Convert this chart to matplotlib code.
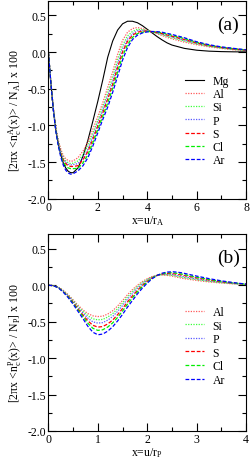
import numpy as np
import matplotlib
matplotlib.use("Agg")
import matplotlib.pyplot as plt
from matplotlib.ticker import MultipleLocator

plt.rcParams['font.family'] = ['Liberation Serif', 'DejaVu Serif']
plt.rcParams['mathtext.fontset'] = 'custom'
plt.rcParams['mathtext.rm'] = 'Liberation Serif'
plt.rcParams['mathtext.it'] = 'Liberation Serif:italic'

# panel (a): x = u / r_A
xa = [0.0, 0.1, 0.2, 0.3, 0.4, 0.5, 0.6, 0.7, 0.8, 0.9, 1.0,
      1.2, 1.4, 1.6, 1.8, 2.0, 2.2, 2.4, 2.6, 2.8, 3.0,
      3.2, 3.4, 3.6, 3.8, 4.0, 4.2, 4.4, 4.6, 4.8, 5.0,
      5.5, 6.0, 6.5, 7.0, 7.5, 8.0]

mg_a = [0, -0.42, -0.78, -1.06, -1.25, -1.40, -1.51, -1.58, -1.625, -1.645, -1.645,
        -1.58, -1.42, -1.20, -0.94, -0.67, -0.38, -0.07, 0.15, 0.30, 0.385,
        0.42, 0.42, 0.40, 0.36, 0.31, 0.26, 0.21, 0.165, 0.125, 0.095,
        0.05, 0.025, 0.012, 0.006, 0.003, 0.002]
al_a = [0, -0.42, -0.77, -1.03, -1.20, -1.32, -1.41, -1.455, -1.48, -1.49, -1.485,
        -1.44, -1.35, -1.23, -1.05, -0.88, -0.69, -0.48, -0.27, -0.03, 0.16,
        0.27, 0.32, 0.335, 0.32, 0.30, 0.275, 0.25, 0.225, 0.20, 0.18,
        0.135, 0.10, 0.07, 0.05, 0.03, 0.02]
si_a = [0, -0.42, -0.775, -1.04, -1.22, -1.35, -1.44, -1.485, -1.51, -1.52, -1.515,
        -1.485, -1.40, -1.28, -1.11, -0.935, -0.75, -0.55, -0.34, -0.105, 0.09,
        0.22, 0.28, 0.31, 0.305, 0.295, 0.276, 0.257, 0.236, 0.214, 0.195,
        0.15, 0.11, 0.078, 0.055, 0.035, 0.022]
p_a = [0, -0.42, -0.78, -1.05, -1.23, -1.365, -1.455, -1.505, -1.53, -1.54, -1.535,
       -1.52, -1.44, -1.325, -1.15, -0.98, -0.79, -0.60, -0.40, -0.165, 0.04,
       0.175, 0.25, 0.29, 0.295, 0.29, 0.277, 0.263, 0.245, 0.225, 0.207,
       0.162, 0.118, 0.084, 0.059, 0.039, 0.025]
s_a = [0, -0.42, -0.78, -1.055, -1.24, -1.38, -1.47, -1.52, -1.55, -1.56, -1.56,
       -1.55, -1.47, -1.355, -1.19, -1.01, -0.83, -0.64, -0.44, -0.21, 0.0,
       0.145, 0.23, 0.27, 0.285, 0.285, 0.278, 0.267, 0.252, 0.233, 0.216,
       0.171, 0.124, 0.088, 0.062, 0.042, 0.026]
cl_a = [0, -0.42, -0.785, -1.065, -1.26, -1.40, -1.50, -1.55, -1.58, -1.59, -1.59,
        -1.585, -1.51, -1.40, -1.235, -1.055, -0.875, -0.695, -0.495, -0.27, -0.055,
        0.10, 0.20, 0.25, 0.27, 0.28, 0.279, 0.272, 0.261, 0.244, 0.228,
        0.183, 0.132, 0.094, 0.066, 0.046, 0.028]
ar_a = [0, -0.42, -0.79, -1.08, -1.28, -1.43, -1.54, -1.61, -1.65, -1.665, -1.66,
        -1.62, -1.55, -1.44, -1.28, -1.10, -0.92, -0.75, -0.55, -0.33, -0.11,
        0.06, 0.17, 0.23, 0.26, 0.275, 0.28, 0.278, 0.27, 0.255, 0.24,
        0.195, 0.14, 0.10, 0.07, 0.05, 0.03]

# panel (b): x = u / r_P
xb = [0.0, 0.1, 0.2, 0.3, 0.4, 0.5, 0.6, 0.7, 0.8, 0.9, 1.0,
      1.1, 1.2, 1.3, 1.4, 1.5, 1.6, 1.7, 1.8, 1.9, 2.0,
      2.1, 2.2, 2.3, 2.4, 2.5, 2.6, 2.7, 2.8, 2.9, 3.0,
      3.25, 3.5, 3.75, 4.0]

al_b = [0, -0.005, -0.025, -0.07, -0.13, -0.20, -0.275, -0.34, -0.39, -0.42, -0.43,
        -0.425, -0.395, -0.35, -0.285, -0.21, -0.13, -0.06, 0.0, 0.05, 0.09,
        0.12, 0.135, 0.14, 0.135, 0.125, 0.11, 0.095, 0.085, 0.075, 0.065,
        0.045, 0.03, 0.018, 0.01]
si_b = [0, -0.005, -0.027, -0.075, -0.137, -0.211, -0.29, -0.362, -0.42, -0.461, -0.475,
        -0.469, -0.437, -0.39, -0.322, -0.244, -0.161, -0.087, -0.022, 0.034, 0.079,
        0.115, 0.135, 0.145, 0.143, 0.136, 0.123, 0.109, 0.098, 0.087, 0.076,
        0.053, 0.035, 0.021, 0.011]
p_b = [0, -0.005, -0.029, -0.079, -0.144, -0.222, -0.306, -0.383, -0.453, -0.503, -0.52,
       -0.513, -0.48, -0.429, -0.359, -0.278, -0.191, -0.114, -0.043, 0.018, 0.068,
       0.109, 0.135, 0.149, 0.151, 0.147, 0.135, 0.122, 0.11, 0.098, 0.087,
       0.061, 0.041, 0.024, 0.012]
s_b = [0, -0.006, -0.031, -0.085, -0.153, -0.235, -0.324, -0.41, -0.49, -0.55, -0.575,
       -0.567, -0.531, -0.478, -0.404, -0.32, -0.229, -0.147, -0.07, -0.002, 0.055,
       0.103, 0.135, 0.155, 0.161, 0.16, 0.151, 0.139, 0.126, 0.113, 0.10,
       0.071, 0.047, 0.028, 0.013]
cl_b = [0, -0.006, -0.033, -0.089, -0.16, -0.246, -0.34, -0.431, -0.523, -0.591, -0.62,
        -0.611, -0.574, -0.517, -0.441, -0.354, -0.259, -0.174, -0.091, -0.018, 0.044,
        0.097, 0.135, 0.159, 0.169, 0.171, 0.163, 0.152, 0.138, 0.124, 0.11,
        0.079, 0.053, 0.031, 0.014]
ar_b = [0, -0.006, -0.035, -0.095, -0.17, -0.26, -0.36, -0.46, -0.565, -0.645, -0.68,
        -0.67, -0.63, -0.57, -0.49, -0.40, -0.30, -0.21, -0.12, -0.04, 0.03,
        0.09, 0.135, 0.165, 0.18, 0.185, 0.18, 0.17, 0.155, 0.14, 0.125,
        0.09, 0.06, 0.035, 0.015]

labels = ["Mg", "Al", "Si", "P", "S", "Cl", "Ar"]

# line styles per element (Grace-like); dotted ones come out paler
dot = (0, (1, 1.1))
dash = (0, (3, 1.5))
styles = {
    "Mg": ("black", "-", 0.8),
    "Al": ("#ff5a5a", dot, 0.9),
    "Si": ("#3cff3c", dot, 0.9),
    "P": ("#5a5aff", dot, 0.9),
    "S": ("#ff0000", dash, 0.9),
    "Cl": ("#00ee00", dash, 0.9),
    "Ar": ("#0000ff", dash, 0.9),
}

fs = 8.5
fig = plt.figure(figsize=(2.52, 4.64), dpi=100)
ax_a = fig.add_axes([0.192, 0.5696, 0.785, 0.4267])
ax_b = fig.add_axes([0.192, 0.069, 0.785, 0.4241])


def style_axes(ax, xmax, xmajor, xlabel, ylabel):
    ax.set_xlim(0, xmax)
    ax.set_ylim(-2.0, 0.7)
    ax.xaxis.set_major_locator(MultipleLocator(xmajor))
    ax.xaxis.set_minor_locator(MultipleLocator(xmajor / 2))
    ax.yaxis.set_major_locator(MultipleLocator(0.5))
    ax.yaxis.set_minor_locator(MultipleLocator(0.25))
    ax.tick_params(which='both', direction='in', top=True, right=True,
                   labelsize=fs, width=0.8, pad=1.5)
    ax.tick_params(which='major', length=5.5)
    ax.tick_params(which='minor', length=3)
    ax.yaxis.set_major_formatter(plt.FuncFormatter(lambda v, p: "%.1f" % v))
    for sp in ax.spines.values():
        sp.set_linewidth(0.8)
    ax.set_xlabel(xlabel, fontsize=fs, labelpad=0)
    ax.set_ylabel(ylabel, fontsize=fs)
    ax.yaxis.set_label_coords(-0.125, 0.45)


# panel (a)
data_a = [mg_a, al_a, si_a, p_a, s_a, cl_a, ar_a]
for name, y in zip(labels, data_a):
    c, ls, lw = styles[name]
    ax_a.plot(xa, y, color=c, linestyle=ls, lw=lw, label=name)
style_axes(ax_a, 8, 2, r'x=u/r$_\mathrm{A}$',
           r'[2πx <n$_\mathrm{c}^\mathrm{A}$(x)> / N$_\mathrm{A}$] x 100')
ax_a.text(0.909, 0.882, "(a)", transform=ax_a.transAxes, fontsize=14,
          ha='center', va='center')
ax_a.legend(loc='upper left', bbox_to_anchor=(0.69, 0.625), frameon=False,
            fontsize=fs, handlelength=1.6, handletextpad=0.75,
            labelspacing=0.1, borderpad=0, borderaxespad=0)

# panel (b)
data_b = [al_b, si_b, p_b, s_b, cl_b, ar_b]
for name, y in zip(labels[1:], data_b):
    c, ls, lw = styles[name]
    ax_b.plot(xb, y, color=c, linestyle=ls, lw=lw, label=name)
style_axes(ax_b, 4, 1, r'x=u/r$_\mathrm{P}$',
           r'[2πx <n$_\mathrm{c}^\mathrm{P}$(x)> / N$_\mathrm{P}$] x 100')
ax_b.text(0.909, 0.882, "(b)", transform=ax_b.transAxes, fontsize=14,
          ha='center', va='center')
ax_b.legend(loc='upper left', bbox_to_anchor=(0.69, 0.635), frameon=False,
            fontsize=fs, handlelength=1.6, handletextpad=0.75,
            labelspacing=0.13, borderpad=0, borderaxespad=0)

fig.savefig("out.png", dpi=100)
